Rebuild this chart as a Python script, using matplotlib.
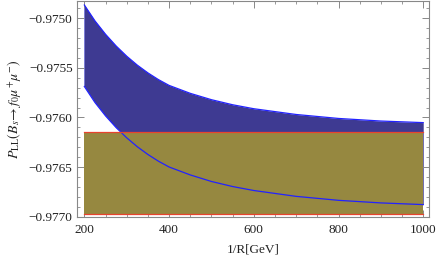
import matplotlib
matplotlib.use("Agg")
import matplotlib.pyplot as plt
from matplotlib.ticker import MultipleLocator, FuncFormatter

# data
inv_R = [200, 225, 250, 275, 300, 325, 350, 375, 400, 450, 500, 550, 600, 700, 800, 900, 1000]
upper = [-0.974867, -0.975027, -0.975162, -0.975280, -0.975383, -0.975473, -0.975551,
         -0.975619, -0.975677, -0.975757, -0.975821, -0.975872, -0.975912, -0.975970,
         -0.976010, -0.976036, -0.976052]
lower = [-0.975688, -0.975849, -0.975984, -0.976102, -0.976205, -0.976295, -0.976373,
         -0.976441, -0.976499, -0.976579, -0.976645, -0.976696, -0.976736, -0.976795,
         -0.976835, -0.976861, -0.976878]
sm_band = [-0.97615, -0.97697]   # Standard Model band (top, bottom)
x_span = [200, 1000]

plt.rcParams['font.family'] = ['Liberation Serif', 'DejaVu Serif']
plt.rcParams['mathtext.fontset'] = 'stix'

fig = plt.figure(figsize=(4.36, 2.60), dpi=100)
ax = fig.add_axes([0.176, 0.1665, 0.808, 0.8295])

blue_fill = '#3e3a92'
olive = '#968840'
edge_blue = '#2222ff'
red = '#e8432e'

ax.fill_between(inv_R, lower, upper, color=blue_fill, lw=0, zorder=1)
ax.plot([inv_R[0], inv_R[0]], [lower[0], upper[0]], color='#6a6ad0', lw=0.6, zorder=1.5)
ax.fill_between(x_span, [sm_band[1]] * 2, [sm_band[0]] * 2, color=olive, lw=0, zorder=2)
ax.plot(inv_R, upper, color=edge_blue, lw=0.9, zorder=3)
ax.plot(inv_R, lower, color=edge_blue, lw=0.9, zorder=3)
for v in sm_band:
    ax.plot(x_span, [v, v], color=red, lw=0.9, zorder=4)

ax.set_xlim(182, 1013.7)
ax.set_ylim(-0.9770, -0.974827)

ax.xaxis.set_major_locator(MultipleLocator(200))
ax.xaxis.set_minor_locator(MultipleLocator(50))
ax.yaxis.set_major_locator(MultipleLocator(0.0005))
ax.yaxis.set_minor_locator(MultipleLocator(0.0001))
ax.yaxis.set_major_formatter(FuncFormatter(lambda v, p: ('%.4f' % v).replace('-', '\u2212')))

ax.tick_params(which='both', direction='in', top=True, right=True,
               color='#888888', labelsize=9.5, labelcolor='#222222')
ax.tick_params(which='major', length=5, width=0.7)
ax.tick_params(which='minor', length=2.5, width=0.6)
ax.tick_params(axis='x', which='both', pad=5)
ax.tick_params(axis='y', which='both', pad=3)
for s in ax.spines.values():
    s.set_color('#888888')
    s.set_linewidth(0.8)

ax.set_xlabel('1/R[GeV]', fontsize=9.5, color='#222222', labelpad=6)
ax.set_ylabel(r'$P_{\rm LL}(B_s\!\to f_0\mu^{+}\mu^{-})$', fontsize=10, color='#222222', labelpad=4)

fig.savefig('out.png', dpi=100)
